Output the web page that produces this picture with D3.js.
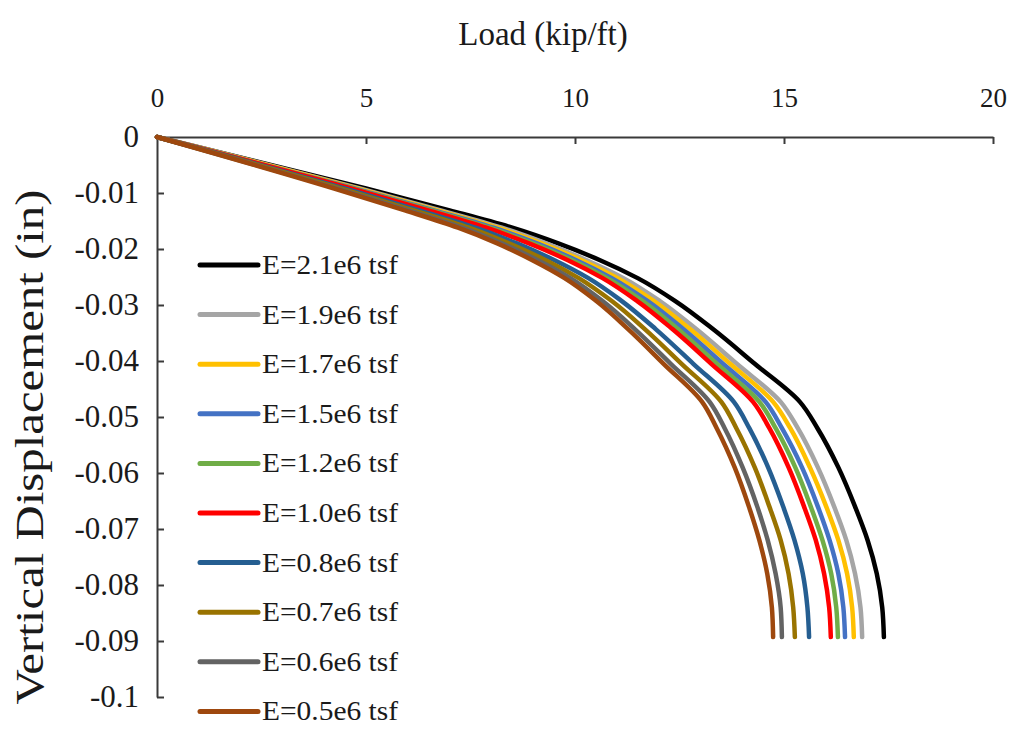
<!DOCTYPE html>
<html>
<head>
<meta charset="utf-8">
<script src="https://cdn.jsdelivr.net/npm/d3@7"></script>
<style>
  html, body { margin: 0; padding: 0; background: #fff; }
  svg { display: block; }
</style>
</head>
<body>
<svg id="chart" width="1013" height="729"></svg>
<script>
const SERIF = "'Liberation Serif', 'Times New Roman', serif";

// Vertical displacement (in) sampled at common steps for all moduli
const displacement = [0, -0.0092, -0.0131, -0.0162, -0.0190, -0.0220, -0.0252, -0.0293, -0.0343,
  -0.0405, -0.0473, -0.0520, -0.0590, -0.0660, -0.0720, -0.0780, -0.0840, -0.0893];

// Load (kip/ft) reached at each displacement step, one array per elastic modulus
const loadE21 = [0, 5.00, 7.00, 8.50, 9.60, 10.60, 11.50, 12.40, 13.30, 14.30, 15.38, 15.80, 16.30, 16.70, 17.00, 17.22, 17.35, 17.39];
const loadE19 = [0, 4.85, 6.79, 8.25, 9.31, 10.28, 11.16, 12.03, 12.90, 13.87, 14.92, 15.33, 15.81, 16.20, 16.49, 16.70, 16.83, 16.87];
const loadE17 = [0, 4.79, 6.71, 8.15, 9.20, 10.16, 11.02, 11.89, 12.75, 13.71, 14.74, 15.15, 15.62, 16.01, 16.30, 16.51, 16.63, 16.67];
const loadE15 = [0, 4.73, 6.63, 8.05, 9.09, 10.03, 10.88, 11.74, 12.59, 13.54, 14.56, 14.95, 15.43, 15.81, 16.09, 16.30, 16.42, 16.46];
const loadE12 = [0, 4.68, 6.56, 7.96, 8.99, 9.93, 10.77, 11.62, 12.46, 13.39, 14.41, 14.80, 15.27, 15.64, 15.92, 16.13, 16.25, 16.29];
const loadE10 = [0, 4.64, 6.49, 7.88, 8.90, 9.83, 10.66, 11.49, 12.33, 13.26, 14.26, 14.65, 15.11, 15.48, 15.76, 15.96, 16.08, 16.12];
const loadE08 = [0, 4.49, 6.28, 7.62, 8.61, 9.51, 10.32, 11.12, 11.93, 12.83, 13.80, 14.17, 14.62, 14.98, 15.25, 15.45, 15.56, 15.60];
const loadE07 = [0, 4.39, 6.14, 7.46, 8.42, 9.30, 10.09, 10.88, 11.67, 12.55, 13.50, 13.86, 14.30, 14.65, 14.92, 15.11, 15.22, 15.26];
const loadE06 = [0, 4.30, 6.02, 7.31, 8.25, 9.11, 9.89, 10.66, 11.43, 12.29, 13.22, 13.58, 14.01, 14.36, 14.61, 14.80, 14.92, 14.95];
const loadE05 = [0, 4.24, 5.93, 7.20, 8.14, 8.98, 9.75, 10.51, 11.27, 12.12, 13.04, 13.39, 13.82, 14.16, 14.41, 14.60, 14.71, 14.74];

const seriesNames = ["E=2.1e6 tsf", "E=1.9e6 tsf", "E=1.7e6 tsf", "E=1.5e6 tsf", "E=1.2e6 tsf",
  "E=1.0e6 tsf", "E=0.8e6 tsf", "E=0.7e6 tsf", "E=0.6e6 tsf", "E=0.5e6 tsf"];
const seriesLoads = [loadE21, loadE19, loadE17, loadE15, loadE12, loadE10, loadE08, loadE07, loadE06, loadE05];
const seriesColors = ["#000000", "#a5a5a5", "#ffc000", "#4472c4", "#70ad47",
  "#ff0000", "#255e91", "#997300", "#636363", "#9e480e"];

const xTicks = [0, 5, 10, 15, 20];
const yTicks = [0, -0.01, -0.02, -0.03, -0.04, -0.05, -0.06, -0.07, -0.08, -0.09, -0.1];

const svg = d3.select("#chart");
const plot = { left: 157, right: 993, top: 137, bottom: 697 };

const x = d3.scaleLinear().domain([0, 20]).range([plot.left, plot.right]);
const y = d3.scaleLinear().domain([0, -0.1]).range([plot.top, plot.bottom]);

function styleAxis(g, size) {
  g.attr("font-family", SERIF).attr("font-size", size);
  g.select(".domain").attr("stroke", "#3a3a3a").attr("stroke-width", 2);
  g.selectAll(".tick line").attr("stroke", "#3a3a3a").attr("stroke-width", 2);
  g.selectAll(".tick").filter(d => d === 0).select("line").remove();
  g.selectAll("text").attr("fill", "#1a1a1a").attr("font-family", SERIF);
}

// Top (load) axis with ticks pointing into the plot
const xAxis = svg.append("g")
  .attr("transform", `translate(0,${plot.top})`)
  .call(d3.axisTop(x).tickValues(xTicks).tickSizeInner(-7).tickSizeOuter(0).tickPadding(30)
    .tickFormat(d3.format("d")));
styleAxis(xAxis, 27);

// Left (displacement) axis
const yAxis = svg.append("g")
  .attr("transform", `translate(${plot.left},0)`)
  .call(d3.axisLeft(y).tickValues(yTicks).tickSizeInner(-7).tickSizeOuter(0).tickPadding(18)
    .tickFormat(d => d === 0 ? "0" : String(+d.toFixed(2))));
styleAxis(yAxis, 31);

// Axis titles
svg.append("text")
  .attr("x", 543).attr("y", 45)
  .attr("text-anchor", "middle")
  .attr("font-family", SERIF)
  .attr("font-size", 33)
  .attr("fill", "#1a1a1a")
  .text("Load (kip/ft)");

svg.append("text")
  .attr("transform", `translate(43,447) rotate(-90)`)
  .attr("text-anchor", "middle")
  .attr("font-family", SERIF)
  .attr("font-size", 40)
  .attr("fill", "#1a1a1a")
  .attr("textLength", 515)
  .attr("lengthAdjust", "spacingAndGlyphs")
  .text("Vertical Displacement (in)");

// Load–displacement curves, stiffest drawn first so the softest lies on top
const line = d3.line()
  .x(d => x(d[0]))
  .y(d => y(d[1]))
  .curve(d3.curveMonotoneY);

seriesLoads.forEach((loads, i) => {
  const pts = loads.map((l, j) => [l, displacement[j]]);
  svg.append("path")
    .datum(pts)
    .attr("fill", "none")
    .attr("stroke", seriesColors[i])
    .attr("stroke-width", 4.5)
    .attr("stroke-linejoin", "round")
    .attr("stroke-linecap", "round")
    .attr("d", line);
});

// Legend
const legend = svg.append("g").attr("transform", "translate(200,265)");
seriesNames.forEach((name, i) => {
  const g = legend.append("g").attr("transform", `translate(0,${i * 49.6})`);
  g.append("line")
    .attr("x1", 0).attr("x2", 58)
    .attr("y1", 0).attr("y2", 0)
    .attr("stroke", seriesColors[i])
    .attr("stroke-width", 5)
    .attr("stroke-linecap", "round");
  g.append("text")
    .attr("x", 62).attr("y", 9)
    .attr("font-family", SERIF)
    .attr("font-size", 28)
    .attr("fill", "#1a1a1a")
    .attr("textLength", 136)
    .attr("lengthAdjust", "spacingAndGlyphs")
    .text(name);
});
</script>
</body>
</html>
